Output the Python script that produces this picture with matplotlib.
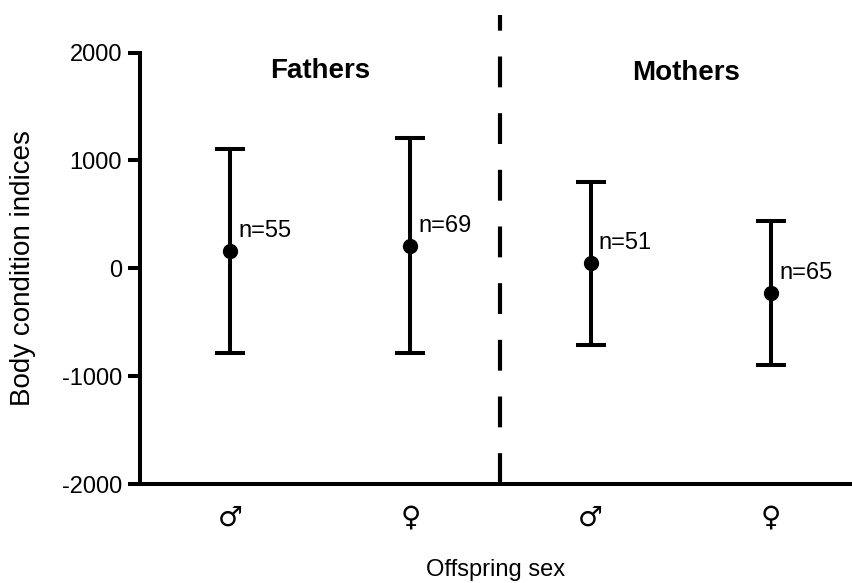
import numpy as np
import matplotlib.pyplot as plt

# data
groups = ['Fathers', 'Mothers']
sex_labels = ['♂', '♀', '♂', '♀']
means = [160, 205, 45, -230]
upper = [1105, 1205, 800, 440]
lower = [-790, -790, -715, -900]
n_labels = ['n=55', 'n=69', 'n=51', 'n=65']

plt.rcParams['font.family'] = ['Liberation Sans', 'DejaVu Sans']

x = np.arange(1, len(means) + 1)
means = np.array(means)
err = [means - np.array(lower), np.array(upper) - means]

fig = plt.figure(figsize=(8.52, 5.83), dpi=100)
ax = fig.add_axes([0.1643, 0.1698, 0.8357, 0.8141])

ax.errorbar(x, means, yerr=err, fmt='o', color='black', ms=10,
            elinewidth=2.9, capsize=11, capthick=2.9)
for xi, m, lab in zip(x, means, n_labels):
    ax.text(xi + 0.045, m + 190, lab, fontsize=17, va='center', ha='left')

# separator between fathers and mothers, drawn from the axis upward
ax.plot([2.5, 2.5], [-2000, 2350], color='black', lw=3,
        linestyle=(0, (7.4, 6.2)), solid_capstyle='butt', dash_capstyle='butt')

ax.text(1.5, 1830, groups[0], fontsize=20, fontweight='bold', ha='center', va='center')
ax.text(3.53, 1810, groups[1], fontsize=20, fontweight='bold', ha='center', va='center')

ax.set_xlim(0.5, 4.45)
ax.set_ylim(-2000, 2400)
ax.set_yticks([-2000, -1000, 0, 1000, 2000])
ax.set_yticklabels(['-2000', '-1000', '0', '1000', '2000'], fontsize=17)
ax.set_xticks(x)
ax.set_xticklabels(sex_labels, fontsize=20, family=['DejaVu Sans'])
ax.tick_params(axis='x', length=0, pad=14)
ax.tick_params(axis='y', length=9, width=2.9, pad=4)

for s in ['top', 'right']:
    ax.spines[s].set_visible(False)
ax.spines['left'].set_linewidth(2.9)
ax.spines['bottom'].set_linewidth(2.9)
ax.spines['left'].set_bounds(-2000, 2000)

ax.set_ylabel('Body condition indices', fontsize=20)
ax.yaxis.set_label_coords(-0.146, 2000 / 4400)
ax.set_xlabel('Offspring sex', fontsize=17, labelpad=20)

fig.savefig('out.png', dpi=100)
